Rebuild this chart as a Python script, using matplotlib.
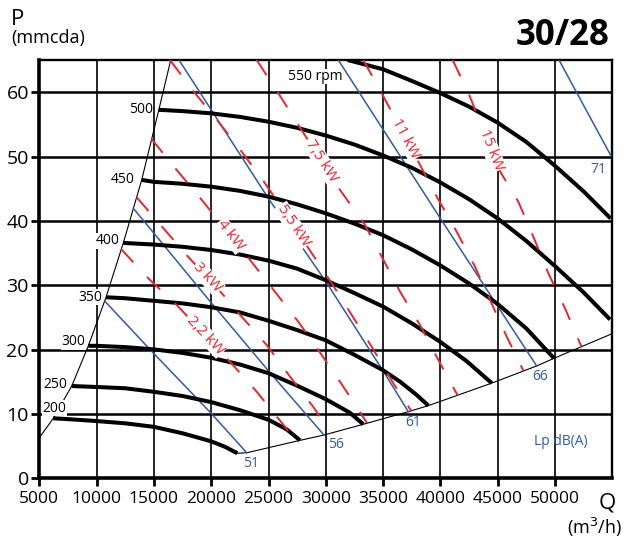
import numpy as np
import matplotlib.pyplot as plt

plt.rcParams['font.family'] = ['Open Sans', 'DejaVu Sans']
plt.rcParams['lines.scale_dashes'] = False

RED = '#e8262d'
BLUE = '#2f5ba8'

# fan curves: flow Q (m3/h) against pressure P (mmcda), one per speed
rpm = [200, 250, 300, 350, 400, 450, 500, 550]
q200 = [6220, 7500, 10000, 12500, 15000, 17500, 20000, 21200, 22280]
p200 = [9.33, 9.2, 8.9, 8.55, 8.0, 7.0, 5.75, 4.9, 3.9]
q250 = [7830, 10000, 12500, 15000, 17500, 20000, 22500, 25000, 26600, 27750]
p250 = [14.35, 14.2, 14.0, 13.45, 12.8, 11.85, 10.6, 9.1, 7.6, 5.9]
q300 = [9280, 10000, 12500, 15000, 17500, 20000, 22500, 25000, 27500, 30000, 32100, 33270]
p300 = [20.6, 20.6, 20.4, 20.05, 19.5, 18.75, 17.7, 16.35, 14.4, 12.3, 10.2, 8.4]
q350 = [10820, 12500, 15000, 17500, 20000, 22500, 25000, 27500, 30000, 32500, 35000, 36500, 37900, 38950]
p350 = [28.15, 28.0, 27.6, 27.2, 26.6, 25.8, 24.5, 23.05, 21.45, 19.2, 16.8, 15.0, 13.0, 11.3]
q400 = [12330, 15000, 17500, 20000, 22500, 25000, 27500, 30000, 32500, 35000, 37500, 40000, 42300, 44480]
p400 = [36.6, 36.35, 36.0, 35.5, 34.8, 33.85, 32.6, 30.8, 28.8, 26.7, 24.1, 21.2, 18.2, 14.8]
q450 = [13935, 15000, 17500, 20000, 22500, 25000, 27500, 30000, 32500, 35000, 37500, 40000, 42500, 45000, 47500, 49910]
p450 = [46.4, 46.1, 45.8, 45.35, 44.7, 43.8, 42.6, 41.2, 39.6, 37.8, 35.6, 33.1, 30.3, 27.1, 23.3, 18.66]
q500 = [15430, 17500, 20000, 22500, 25000, 27500, 30000, 32500, 35000, 37500, 40000, 42500, 45000, 47500, 50000, 52500, 54800]
p500 = [57.3, 57.1, 56.75, 56.2, 55.45, 54.5, 53.3, 51.9, 50.2, 48.3, 46.0, 43.4, 40.4, 36.9, 33.0, 28.9, 24.7]
q550 = [31900, 35000, 37500, 40000, 42500, 45000, 47500, 50000, 52500, 54860]
p550 = [65.05, 63.6, 61.8, 59.9, 57.8, 55.3, 52.3, 48.6, 44.6, 40.4]

# envelope of the working area
q_left = [5000, 6220, 7830, 9280, 10820, 12330, 13935, 15430, 16470]
p_left = [6.3, 9.33, 14.35, 20.6, 28.15, 36.6, 46.4, 57.3, 65.05]
q_low = [22280, 23100, 27750, 29840, 33270, 37200, 38950, 44480, 48400, 49910, 55000]
p_low = [3.9, 3.97, 5.9, 6.73, 8.4, 10.36, 11.3, 14.8, 17.47, 18.66, 22.5]

# sound pressure lines, Lp dB(A)
lp = ['51', '56', '61', '66', '71']
q51 = [10740, 14700, 20000, 23100]
p51 = [27.5, 19.95, 10.1, 3.97]
q56 = [13200, 20000, 25000, 29840]
p56 = [42.0, 27.3, 16.7, 6.73]
q61 = [17190, 20000, 25000, 30000, 35000, 37200]
p61 = [65.05, 57.3, 43.5, 30.6, 16.7, 10.36]
q66 = [31090, 40000, 48400]
p66 = [65.05, 40.4, 17.47]
q71 = [50350, 54900]
p71 = [65.05, 50.1]

# absorbed power lines
kw = ['2,2 kW', '3 kW', '4 kW', '5,5 kW', '7,5 kW', '11 kW', '15 kW']
q_kw22 = [12130, 14510, 16990, 21640, 23970, 27420]
p_kw22 = [35.66, 31.1, 26.95, 18.13, 13.47, 5.85]
q_kw3 = [13500, 15820, 17980, 21060, 22660, 24840, 26880, 28910, 30450]
p_kw3 = [43.7, 38.9, 34.46, 28.5, 25.13, 20.73, 15.8, 11.1, 7.0]
q_kw4 = [14780, 16990, 19170, 23390, 25570, 27600, 29640, 31530, 33600]
p_kw4 = [52.8, 47.95, 43.3, 33.95, 29.0, 24.35, 19.18, 14.25, 8.6]
q_kw55 = [16400, 18590, 20620, 22660, 24700, 28880, 30520, 32260, 34000, 35890, 37450]
p_kw55 = [65.05, 59.88, 55.46, 50.79, 45.88, 34.73, 30.33, 25.4, 20.47, 14.77, 10.5]
q_kw75 = [23970, 25860, 27600, 31240, 33420, 34880, 36480, 38220, 39820, 41500]
p_kw75 = [65.05, 59.88, 54.95, 44.84, 39.4, 34.46, 29.02, 23.84, 18.4, 12.9]
q_kw11 = [33270, 34880, 38070, 39680, 41420, 43020, 44330, 45790, 47250]
p_kw11 = [65.05, 59.88, 49.24, 43.79, 38.35, 32.9, 27.73, 22.02, 16.7]
q_kw15 = [41070, 42520, 45050, 46800, 48110, 49420, 50870, 52300]
p_kw15 = [65.05, 59.6, 48.2, 43.0, 37.57, 31.88, 26.44, 20.5]

fan_q = [q200, q250, q300, q350, q400, q450, q500, q550]
fan_p = [p200, p250, p300, p350, p400, p450, p500, p550]
lp_q = [q51, q56, q61, q66, q71]
lp_p = [p51, p56, p61, p66, p71]
kw_q = [q_kw22, q_kw3, q_kw4, q_kw55, q_kw75, q_kw11, q_kw15]
kw_p = [p_kw22, p_kw3, p_kw4, p_kw55, p_kw75, p_kw11, p_kw15]

fig = plt.figure(figsize=(6.31, 5.42), dpi=100)
ax = fig.add_axes([39.3 / 631, 63.7 / 542, 573 / 631, 418 / 542])
ax.set_xlim(5000, 55000)
ax.set_ylim(0, 65)

ax.set_xticks(np.arange(5000, 50001, 5000))
ax.set_yticks(np.arange(0, 61, 10))
ax.set_axisbelow(True)
ax.grid(axis='x', color='black', lw=1.2)
ax.grid(axis='y', color='black', lw=1.8)
ax.tick_params(direction='out', length=5.5, width=2, color='black')
ax.tick_params(axis='x', labelsize=12.5, pad=4)
ax.tick_params(axis='y', labelsize=14, pad=2)
for side, w in [('left', 2.6), ('bottom', 2.6), ('top', 1.7), ('right', 1.7)]:
    ax.spines[side].set_linewidth(w)

ax.plot(q_left, p_left, color='black', lw=0.8, zorder=2)
ax.plot(q_low, p_low, color='black', lw=0.8, zorder=2)

# label placement: offsets in pixels from the end of each line
rpm_off = [(1, 10), (-4, 2), (-3, 4), (-4, 0), (-4, 2), (-7, 0), (-6, 0), (-5, -16.5)]
for r, qs, ps, off in zip(rpm, fan_q, fan_p, rpm_off):
    ax.plot(qs, ps, color='black', lw=2.9, solid_capstyle='butt',
            solid_joinstyle='round', zorder=4)
    txt = '550 rpm' if r == 550 else str(r)
    ax.annotate(txt, (qs[0], ps[0]), xytext=off, textcoords='offset pixels',
                ha='center' if r == 200 else 'right', va='center', fontsize=10,
                bbox=dict(fc='white', ec='none', pad=0.3), zorder=6,
                annotation_clip=False)

lp_off = [(4, -11), (12, -9), (5, -11), (3, -11), (-12.5, -13)]
for name, qs, ps, off in zip(lp, lp_q, lp_p, lp_off):
    ax.plot(qs, ps, color=BLUE, lw=1.1, zorder=3)
    ax.annotate(name, (qs[-1], ps[-1]), xytext=off, textcoords='offset pixels',
                ha='center', va='center', fontsize=10, color=BLUE, zorder=6)

ax.text(50500, 5.7, 'Lp dB(A)', color=BLUE, fontsize=10, ha='center', va='center')

kw_label_q = [19480, 19680, 21680, 27165, 29640, 36980, 44400]
for name, qs, ps, ql in zip(kw, kw_q, kw_p, kw_label_q):
    ax.plot(qs, ps, color=RED, lw=1.4, dashes=(13, 14.5), dash_capstyle='butt', zorder=5)
    pl = np.interp(ql, qs, ps)
    a = ax.transData.transform([(ql - 600, np.interp(ql - 600, qs, ps)),
                                (ql + 600, np.interp(ql + 600, qs, ps))])
    ang = np.degrees(np.arctan2(a[1, 1] - a[0, 1], a[1, 0] - a[0, 0]))
    ax.text(ql, pl, name, color=RED, fontsize=11, rotation=ang, rotation_mode='anchor',
            ha='center', va='center', zorder=7,
            bbox=dict(fc='white', ec='none', pad=0.5))

fig.text(11 / 631, 1 - 25 / 542, 'P', fontsize=16, va='baseline', ha='left')
fig.text(11 / 631, 1 - 38 / 542, '(mmcda)', fontsize=13, va='center', ha='left')
fig.text(610 / 631, 1 - 45 / 542, '30/28', fontsize=25, fontweight='bold',
         va='baseline', ha='right')
fig.text(607.5 / 631, 1 - 508 / 542, 'Q', fontsize=16, va='baseline', ha='center')
fig.text(594.5 / 631, 1 - 527.5 / 542, r'(m$^3$/h)', fontsize=13, va='center', ha='center')

fig.savefig('out.png', dpi=100)
